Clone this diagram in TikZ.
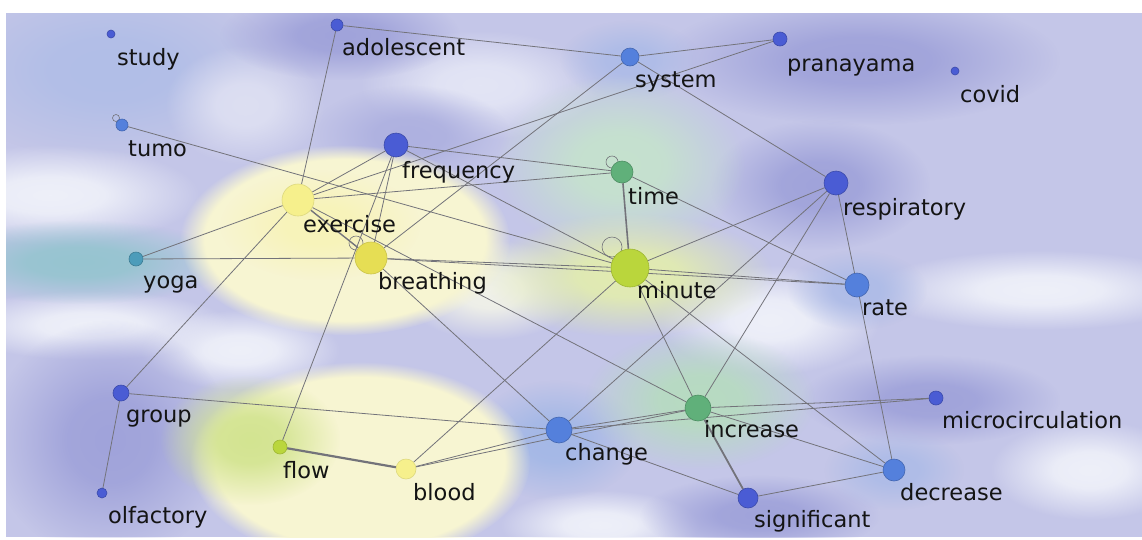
\documentclass[tikz,border=0pt]{standalone}
\usepackage{fontspec}
\setmainfont{DejaVu Sans}
\usetikzlibrary{fadings}

\definecolor{bgbase}{RGB}{196,198,232}
\definecolor{bgdark}{RGB}{160,163,218}
\definecolor{bglight}{RGB}{238,240,249}
\definecolor{bgteal}{RGB}{150,196,208}
\definecolor{bgyellow}{RGB}{247,245,210}
\definecolor{bglime}{RGB}{226,236,176}
\definecolor{bggreen}{RGB}{198,226,206}
\definecolor{bgblue}{RGB}{164,184,230}
\definecolor{kwdeep}{RGB}{74,92,212}
\definecolor{kwblue}{RGB}{84,128,220}
\definecolor{kwteal}{RGB}{76,156,186}
\definecolor{kwgreen}{RGB}{96,176,122}
\definecolor{kwlime}{RGB}{186,214,60}
\definecolor{kwflow}{RGB}{168,204,52}
\definecolor{kwpale}{RGB}{246,240,140}
\definecolor{kwyellow}{RGB}{230,222,84}
\definecolor{linkgray}{RGB}{115,115,122}

% soft patch with a flat middle
\pgfdeclareradialshading{patchshade}{\pgfpointorigin}{color(0bp)=(white); color(9bp)=(black!8); color(25bp)=(black); color(50bp)=(black)}
\pgfdeclarefading{patch}{\pgfuseshading{patchshade}}

\pgfdeclarelayer{blobs}
\pgfdeclarelayer{links}
\pgfsetlayers{blobs,links,main}

\begin{document}
\begin{tikzpicture}[x=1pt, y=-1pt,
    kw/.style={circle, inner sep=0pt, minimum size=#1, line width=0.6pt},
    deep/.style={fill=kwdeep, draw=kwdeep!80!black},
    blue/.style={fill=kwblue, draw=kwblue!80!black},
    teal/.style={fill=kwteal, draw=kwteal!80!black},
    green/.style={fill=kwgreen, draw=kwgreen!80!black},
    lime/.style={fill=kwlime, draw=kwlime!85!black},
    pale/.style={fill=kwpale, draw=kwpale!90!black},
    yellowish/.style={fill=kwyellow, draw=kwyellow!88!black},
    lbl/.style={anchor=base west, inner sep=0pt, text=black!92,
        font=\fontsize{22.5}{27}\selectfont},
    link/.style={draw=linkgray, line width=0.8pt},
    heavy/.style={draw=linkgray, line width=2.2pt},
    selfloop/.style={draw=linkgray, line width=0.6pt}]

\useasboundingbox (0,0) rectangle (1142,539);

% density background
\begin{pgfonlayer}{blobs}
\fill[white] (0,0) rectangle (1142,539);
\begin{scope}
\clip (6,13) rectangle (1142,537);
\fill[bgbase] (6,13) rectangle (1142,537);
% light and dark patches
\fill[bgblue!60!bgbase, path fading=patch] (110,70) ellipse (170pt and 90pt);
\fill[bglight, path fading=patch] (50,195) ellipse (150pt and 50pt);
\fill[bglight!60!bgbase, path fading=patch] (245,105) ellipse (80pt and 60pt);
\fill[bglight!75!bgbase, path fading=patch] (480,85) ellipse (120pt and 55pt);
\fill[bglight, path fading=patch] (770,320) ellipse (110pt and 55pt);
\fill[bglight, path fading=patch] (1040,290) ellipse (170pt and 40pt);
\fill[bglight, path fading=patch] (1090,470) ellipse (100pt and 50pt);
\fill[bglight, path fading=patch] (90,325) ellipse (140pt and 35pt);
\fill[bglight, path fading=patch] (240,350) ellipse (100pt and 40pt);
\fill[bglight, path fading=patch] (600,525) ellipse (100pt and 35pt);
\fill[bgdark, path fading=patch] (340,35) ellipse (120pt and 45pt);
\fill[bgdark, path fading=patch] (860,60) ellipse (200pt and 65pt);
\fill[bgdark, path fading=patch] (820,185) ellipse (110pt and 65pt);
\fill[bgdark, path fading=patch] (110,440) ellipse (120pt and 120pt);
\fill[bgdark, path fading=patch] (760,515) ellipse (120pt and 40pt);
\fill[bgdark, path fading=patch] (930,400) ellipse (130pt and 45pt);
\fill[bgdark!60!bgbase, path fading=patch] (410,135) ellipse (100pt and 50pt);
\fill[bgblue, path fading=patch] (555,440) ellipse (85pt and 60pt);
\fill[bgblue!70!bgbase, path fading=patch] (857,290) ellipse (70pt and 40pt);
\fill[bgblue!70!bgbase, path fading=patch] (894,470) ellipse (70pt and 40pt);
\fill[bgblue!70!bgbase, path fading=patch] (630,60) ellipse (70pt and 40pt);
\fill[bgteal, path fading=patch] (80,262) ellipse (150pt and 42pt);
% clusters
\fill[bglight!60!bgyellow, path fading=patch] (490,290) ellipse (90pt and 50pt);
\fill[bgyellow, path fading=circle with fuzzy edge 15 percent] (345,240) ellipse (165pt and 95pt);
\fill[kwpale!35!bgyellow, path fading=patch] (320,225) ellipse (100pt and 55pt);
\fill[bgyellow, path fading=circle with fuzzy edge 15 percent] (360,462) ellipse (170pt and 100pt);
\fill[bglime!75!kwflow, path fading=patch] (250,440) ellipse (90pt and 65pt);
\fill[bggreen, path fading=patch] (620,165) ellipse (125pt and 90pt);
\fill[bglime, path fading=patch] (628,275) ellipse (145pt and 62pt);
\fill[bggreen!85!kwgreen, path fading=patch] (700,400) ellipse (115pt and 70pt);
\end{scope}
\end{pgfonlayer}

% keywords
\node[kw=8, deep] (study) at (111,34) {};
\node[kw=12, deep] (adolescent) at (337,25) {};
\node[kw=18, blue] (system) at (630,57) {};
\node[kw=14, deep] (pranayama) at (780,39) {};
\node[kw=8, deep] (covid) at (955,71) {};
\node[kw=12, blue] (tumo) at (122,125) {};
\node[kw=24, deep] (frequency) at (396,145) {};
\node[kw=22, green] (time) at (622,172) {};
\node[kw=32, pale] (exercise) at (298,200) {};
\node[kw=24, deep] (respiratory) at (836,183) {};
\node[kw=14, teal] (yoga) at (136,259) {};
\node[kw=32, yellowish] (breathing) at (371,258) {};
\node[kw=38, lime] (minute) at (630,268) {};
\node[kw=24, blue] (rate) at (857,285) {};
\node[kw=16, deep] (group) at (121,393) {};
\node[kw=14, deep] (microcirculation) at (936,398) {};
\node[kw=26, green] (increase) at (698,408) {};
\node[kw=26, blue] (change) at (559,430) {};
\node[kw=14, lime] (flow) at (280,447) {};
\node[kw=20, pale] (blood) at (406,469) {};
\node[kw=22, blue] (decrease) at (894,470) {};
\node[kw=20, deep] (significant) at (748,498) {};
\node[kw=10, deep] (olfactory) at (102,493) {};

% labels
\node[lbl] (study-l) at (117,65) {study};
\node[lbl] (adolescent-l) at (342,55) {adolescent};
\node[lbl] (system-l) at (635,87) {system};
\node[lbl] (pranayama-l) at (787,71) {pranayama};
\node[lbl] (covid-l) at (960,102) {covid};
\node[lbl] (tumo-l) at (128,156) {tumo};
\node[lbl] (frequency-l) at (402,178) {frequency};
\node[lbl] (time-l) at (628,204) {time};
\node[lbl] (exercise-l) at (303,232) {exercise};
\node[lbl] (respiratory-l) at (843,215) {respiratory};
\node[lbl] (yoga-l) at (143,288) {yoga};
\node[lbl] (breathing-l) at (378,289) {breathing};
\node[lbl] (minute-l) at (637,298) {minute};
\node[lbl] (rate-l) at (862,315) {rate};
\node[lbl] (group-l) at (126,422) {group};
\node[lbl] (microcirculation-l) at (942,428) {microcirculation};
\node[lbl] (increase-l) at (704,437) {increase};
\node[lbl] (change-l) at (565,460) {change};
\node[lbl] (flow-l) at (283,478) {flow};
\node[lbl] (blood-l) at (413,500) {blood};
\node[lbl] (decrease-l) at (900,500) {decrease};
\node[lbl] (significant-l) at (754,527) {significant};
\node[lbl] (olfactory-l) at (108,523) {olfactory};

% co-occurrence links
\begin{pgfonlayer}{links}
\draw[link]
    (adolescent) edge (system)
    (adolescent) edge (exercise)
    (system) edge (pranayama)
    (system) edge (breathing)
    (system) edge (respiratory)
    (pranayama) edge (exercise)
    (tumo) edge (minute)
    (frequency) edge (exercise)
    (frequency) edge (breathing)
    (frequency) edge (flow)
    (frequency) edge (time)
    (frequency) edge (minute)
    (time) edge (exercise)
    (time) edge (rate)
    (exercise) edge (yoga)
    (exercise) edge (group)
    (exercise) edge (increase)
    (yoga) edge (breathing)
    (breathing) edge (minute)
    (breathing) edge (rate)
    (breathing) edge (change)
    (minute) edge (respiratory)
    (minute) edge (rate)
    (minute) edge (increase)
    (minute) edge (decrease)
    (minute) edge (blood)
    (respiratory) edge (rate)
    (respiratory) edge (change)
    (respiratory) edge (increase)
    (rate) edge (decrease)
    (group) edge (change)
    (group) edge (olfactory)
    (blood) edge (change)
    (blood) edge (increase)
    (change) edge (increase)
    (change) edge (microcirculation)
    (change) edge (significant)
    (increase) edge (microcirculation)
    (increase) edge (decrease)
    (significant) edge (decrease);
\draw[heavy] (flow) -- (blood);
\draw[heavy, line width=1.8pt] (increase) -- (significant);
\draw[heavy, line width=1.6pt] (time) -- (minute);
\draw[heavy, line width=1.4pt] (exercise) -- (breathing);
% self loops
\draw[selfloop] (tumo.center) ++(-6,-7) circle (3.5pt);
\draw[selfloop] (time.center) ++(-10,-10) circle (6pt);
\draw[selfloop] (breathing.center) ++(-15,-15) circle (7pt);
\draw[selfloop] (minute.center) ++(-18,-21) circle (10pt);
\end{pgfonlayer}

\end{tikzpicture}
\end{document}
